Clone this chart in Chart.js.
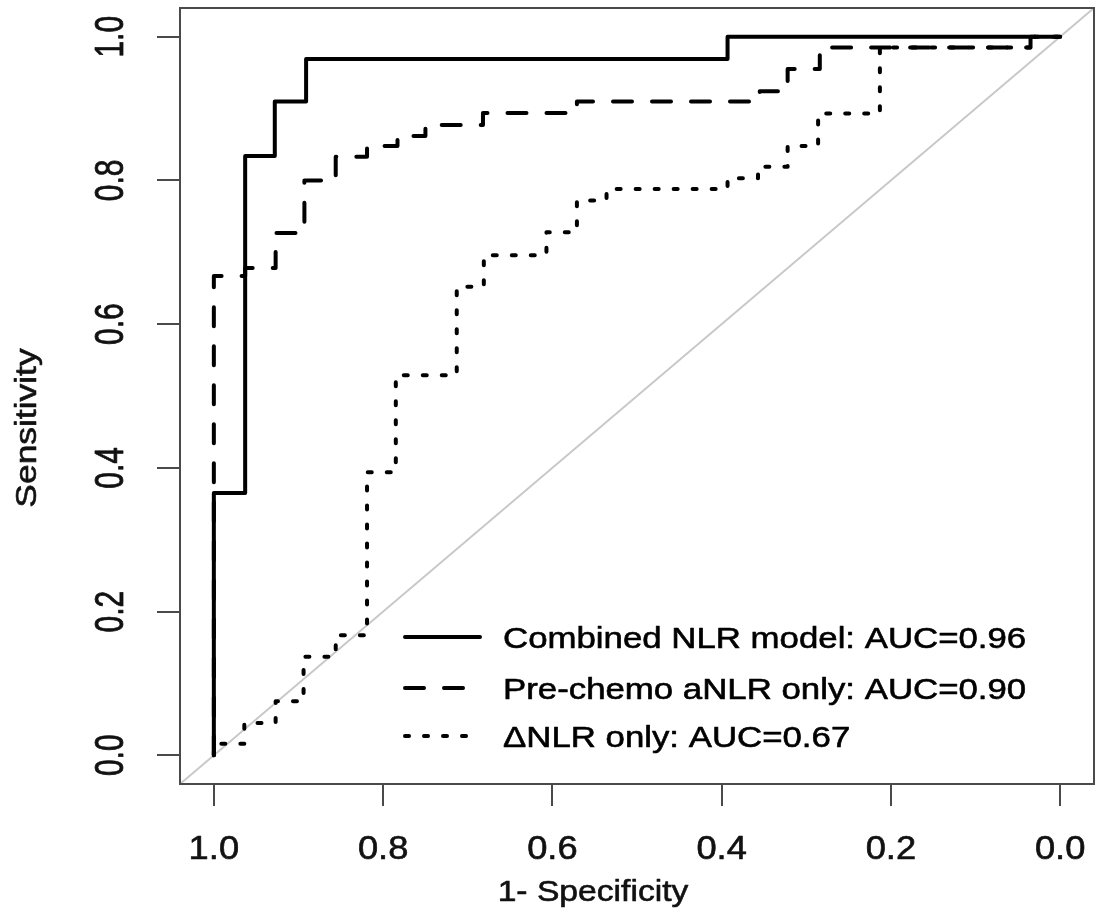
<!DOCTYPE html>
<html>
<head>
<meta charset="utf-8">
<script src="https://cdn.jsdelivr.net/npm/chart.js@4.4.1/dist/chart.umd.min.js"></script>
<style>
html,body{margin:0;padding:0;background:#ffffff;}
#wrap{width:1109px;height:922px;position:relative;}
</style>
</head>
<body>
<div id="wrap"><canvas id="c" width="1109" height="922"></canvas></div>
<script>
// ---------- data ----------
const xTickValues = [1.0, 0.8, 0.6, 0.4, 0.2, 0.0];
const yTickValues = [0.0, 0.2, 0.4, 0.6, 0.8, 1.0];
const xTickLabels = ['1.0', '0.8', '0.6', '0.4', '0.2', '0.0'];
const yTickLabels = ['0.0', '0.2', '0.4', '0.6', '0.8', '1.0'];
const axisMin = -0.04;
const axisMax = 1.04;
const xTitle = '1- Specificity';
const yTitle = 'Sensitivity';
const seriesNames = [
  'Combined NLR model: AUC=0.96',
  'Pre-chemo aNLR only: AUC=0.90',
  '\u0394NLR only: AUC=0.67'
];

// Combined NLR model (specificity, sensitivity) vertices
const combinedSpec = [1.0, 1.0, 0.963, 0.963, 0.928, 0.928, 0.891, 0.891, 0.393, 0.393, 0.0];
const combinedSens = [0.0, 0.365, 0.365, 0.834, 0.834, 0.910, 0.910, 0.969, 0.969, 1.0, 1.0];

// Pre-chemo aNLR only
const anlrSpec = [1.0, 1.0, 0.963, 0.963, 0.927, 0.927, 0.893, 0.893, 0.856, 0.856, 0.819, 0.819,
                  0.783, 0.783, 0.750, 0.750, 0.682, 0.682, 0.571, 0.571, 0.355, 0.355, 0.322, 0.322,
                  0.284, 0.284, 0.035, 0.035, 0.0];
const anlrSens = [0.0, 0.667, 0.667, 0.678, 0.678, 0.727, 0.727, 0.800, 0.800, 0.833, 0.833, 0.848,
                  0.848, 0.862, 0.862, 0.877, 0.877, 0.894, 0.894, 0.910, 0.910, 0.924, 0.924, 0.955,
                  0.955, 0.985, 0.985, 1.0, 1.0];

// Delta NLR only
const dnlrSpec = [1.0, 1.0, 0.964, 0.964, 0.927, 0.927, 0.894, 0.894, 0.856, 0.856, 0.819, 0.819,
                  0.785, 0.785, 0.713, 0.713, 0.681, 0.681, 0.607, 0.607, 0.571, 0.571, 0.536, 0.536,
                  0.393, 0.393, 0.357, 0.357, 0.322, 0.322, 0.286, 0.286, 0.213, 0.213, 0.035, 0.035, 0.0];
const dnlrSens = [0.0, 0.016, 0.016, 0.045, 0.045, 0.075, 0.075, 0.137, 0.137, 0.167, 0.167, 0.394,
                  0.394, 0.529, 0.529, 0.652, 0.652, 0.696, 0.696, 0.728, 0.728, 0.772, 0.772, 0.788,
                  0.788, 0.803, 0.803, 0.819, 0.819, 0.848, 0.848, 0.893, 0.893, 0.985, 0.985, 1.0, 1.0];

// ---------- helpers ----------
const toPoints = (xs, ys) => xs.map((x, i) => ({x: x, y: ys[i]}));
const FONT = '"Liberation Sans", Arial, Helvetica, sans-serif';
const LINE_W = 4;
const dashPattern = [19, 20];
const dotPattern = [4, 15];
const styles = [
  {dash: []},
  {dash: dashPattern},
  {dash: dotPattern}
];

function drawText(ctx, str, x, y, opt) {
  ctx.save();
  ctx.translate(x, y);
  if (opt.imgSx) ctx.scale(opt.imgSx, 1);
  if (opt.rotate) ctx.rotate(opt.rotate);
  ctx.scale(opt.sx || 1, 1);
  ctx.font = opt.size + 'px ' + FONT;
  ctx.fillStyle = opt.color || '#000';
  ctx.strokeStyle = opt.color || '#000';
  ctx.lineWidth = 0.6;
  ctx.lineJoin = 'round';
  ctx.textAlign = opt.align || 'left';
  ctx.textBaseline = opt.baseline || 'alphabetic';
  ctx.fillText(str, 0, 0);
  ctx.strokeText(str, 0, 0);
  ctx.restore();
}

const decorPlugin = {
  id: 'rDecor',
  afterDraw(chart) {
    const ctx = chart.ctx;
    const a = chart.chartArea;
    const xs = chart.scales.x, ys = chart.scales.y;
    // box
    ctx.save();
    ctx.strokeStyle = '#4a4a4a';
    ctx.lineWidth = 2;
    ctx.strokeRect(a.left, a.top, a.right - a.left, a.bottom - a.top);
    ctx.restore();
    // x tick labels
    xTickValues.forEach((v, i) => {
      drawText(ctx, xTickLabels[i], xs.getPixelForValue(v), 859,
        {size: 33, sx: 1.1, align: 'center', color: '#111'});
    });
    // y tick labels (rotated)
    yTickValues.forEach((v, i) => {
      drawText(ctx, yTickLabels[i], 123, ys.getPixelForValue(v),
        {size: 30, imgSx: 1.35, rotate: -Math.PI / 2, align: 'center', color: '#111'});
    });
    // axis titles
    drawText(ctx, xTitle, 593, 901, {size: 29, sx: 1.16, align: 'center', color: '#111'});
    drawText(ctx, yTitle, 36, 428, {size: 29, sx: 1.22, rotate: -Math.PI / 2, align: 'center', color: '#111'});
    // legend
    const rows = [637, 688, 736];
    rows.forEach((ry, i) => {
      ctx.save();
      ctx.strokeStyle = '#000';
      ctx.lineWidth = LINE_W;
      ctx.lineCap = 'round';
      ctx.setLineDash(styles[i].dash);
      ctx.beginPath();
      ctx.moveTo(405, ry);
      ctx.lineTo(480, ry);
      ctx.stroke();
      ctx.restore();
      drawText(ctx, seriesNames[i], 503, ry + 10.5, {size: 30, sx: 1.16, align: 'left', color: '#000'});
    });
  }
};

const ds = (label, xs, ys, i) => ({
  label: label,
  data: toPoints(xs, ys),
  showLine: true,
  borderColor: '#000',
  borderWidth: LINE_W,
  borderDash: styles[i].dash,
  borderCapStyle: 'round',
  borderJoinStyle: 'round',
  pointRadius: 0,
  pointHoverRadius: 0,
  fill: false,
  tension: 0,
  order: i
});

new Chart(document.getElementById('c'), {
  type: 'scatter',
  data: {
    datasets: [
      ds(seriesNames[0], combinedSpec, combinedSens, 0),
      ds(seriesNames[1], anlrSpec, anlrSens, 1),
      ds(seriesNames[2], dnlrSpec, dnlrSens, 2),
      {
        label: 'reference',
        data: [{x: axisMax, y: 1 - axisMax}, {x: axisMin, y: 1 - axisMin}],
        showLine: true,
        borderColor: '#c8c8c8',
        borderWidth: 2,
        pointRadius: 0,
        fill: false,
        order: 10
      }
    ]
  },
  options: {
    responsive: false,
    animation: false,
    devicePixelRatio: 1,
    layout: {padding: {left: 0, right: 15, top: 8, bottom: 0}},
    plugins: {legend: {display: false}, tooltip: {enabled: false}},
    scales: {
      x: {
        type: 'linear', reverse: true, min: axisMin, max: axisMax,
        afterBuildTicks: s => { s.ticks = xTickValues.map(v => ({value: v})); },
        afterFit: s => { s.height = 922 - 784; },
        grid: {display: true, drawOnChartArea: false, drawTicks: true, tickLength: 22, color: '#4a4a4a', lineWidth: 2},
        border: {display: false},
        ticks: {display: false}
      },
      y: {
        type: 'linear', min: axisMin, max: axisMax,
        afterBuildTicks: s => { s.ticks = yTickValues.map(v => ({value: v})); },
        afterFit: s => { s.width = 180; },
        grid: {display: true, drawOnChartArea: false, drawTicks: true, tickLength: 23, color: '#4a4a4a', lineWidth: 2},
        border: {display: false},
        ticks: {display: false}
      }
    }
  },
  plugins: [decorPlugin]
});
</script>
</body>
</html>
